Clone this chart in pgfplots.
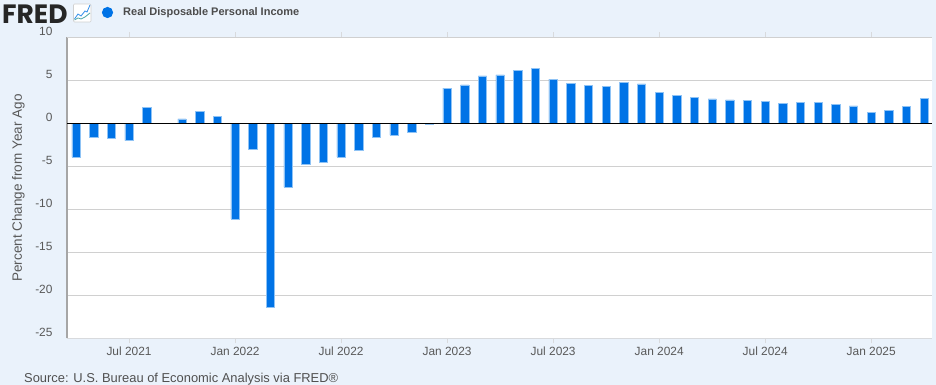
\documentclass[border=0pt]{standalone}
\usepackage{pgfplots}
\pgfplotsset{compat=1.18}
\usepackage{pgfplotstable}
\usepackage{fontspec}
\setmainfont{Liberation Sans}
\newfontfamily\logofont{Poppins}
\definecolor{bgblue}{HTML}{EAF2FB}
\definecolor{barblue}{HTML}{0073E6}
\definecolor{baredge}{HTML}{8FC3F5}
\definecolor{txt}{HTML}{595959}
\definecolor{gridc}{HTML}{D0D0D0}
\definecolor{axisc}{HTML}{A6A6A6}
\pgfplotstableread{
x y
0 -3.9
1 -1.6
2 -1.7
3 -2.0
4 1.9
5 0.05
6 0.55
7 1.45
8 0.85
9 -11.1
10 -3.0
11 -21.4
12 -7.4
13 -4.75
14 -4.5
15 -3.9
16 -3.1
17 -1.6
18 -1.35
19 -1.0
20 -0.1
21 4.1
22 4.5
23 5.55
24 5.65
25 6.15
26 6.45
27 5.15
28 4.7
29 4.4
30 4.35
31 4.8
32 4.6
33 3.6
34 3.3
35 3.05
36 2.85
37 2.75
38 2.65
39 2.55
40 2.35
41 2.45
42 2.45
43 2.25
44 2.05
45 1.25
46 1.55
47 1.95
48 2.95
}\incometable
\begin{document}
\begin{tikzpicture}[x=1pt,y=1pt]
\path[use as bounding box,fill=bgblue] (0,0) rectangle (936,385);
\begin{axis}[
  at={(67pt,46.5pt)},anchor=south west,
  scale only axis,width=865pt,height=301pt,
  xmin=-0.51,xmax=48.44,ymin=-25,ymax=10,
  ybar,bar width=8.3pt,
  axis background/.style={fill=white},
  ytick={-25,-20,-15,-10,-5,0,5,10},
  xtick={3,9,15,21,27,33,39,45},
  xticklabels={Jul 2021,Jan 2022,Jul 2022,Jan 2023,Jul 2023,Jan 2024,Jul 2024,Jan 2025},
  ymajorgrids,
  grid style={gridc,line width=1.3pt},
  axis line style={draw=none},
  tick align=outside,
  xtick style={draw=gridc!70!bgblue,line width=0.6pt},
  major tick length=5pt,
  ytick style={draw=none},
  tick label style={font=\fontsize{11.9}{14}\selectfont,text=txt},
  /pgf/number format/assume math mode=true,
  yticklabel style={yshift=6pt,xshift=-6pt},
  ylabel={Percent Change from Year Ago},
  every axis y label/.style={at={(axis description cs:0,0.5)},rotate=90,anchor=center,yshift=48.5pt,font=\fontsize{13.5}{15}\selectfont,text=txt},
  clip=false,
]
\addplot[ybar,bar shift=0pt,fill=barblue,draw=baredge,line width=0.5pt] table[x=x,y=y] {\incometable};
\draw[axisc,line width=1.5pt] (axis cs:-0.51,-25) -- (axis cs:-0.51,10);
\draw[gridc,line width=1.3pt] (axis cs:-0.51,10) -- (axis cs:48.44,10);
\draw[gridc!70!bgblue,line width=1pt] (axis cs:-0.51,-25) -- (axis cs:48.44,-25);
\draw[black,line width=1.3pt] (axis cs:-0.51,0) -- (axis cs:48.44,0);
\end{axis}
% header
\node[anchor=west,inner sep=0pt,font=\logofont\bfseries\fontsize{26.5}{26}\selectfont,text=black!85] at (2,371) {FRED};
\draw[gridc,fill=white,rounded corners=1pt,line width=0.6pt] (73.5,363) rectangle (91,381);
\draw[barblue!80,line width=0.8pt] (74.5,366) -- (78,371) -- (81,369) -- (85,374) -- (87,373) -- (90,380);
\draw[teal!70,line width=0.8pt] (74.5,365) -- (78,367) -- (81,366) -- (85,368) -- (90,372);
\fill[barblue] (107.5,372.5) circle (5.6);
\node[anchor=west,inner sep=0pt,font=\bfseries\fontsize{11}{13}\selectfont,text=txt!85!black] at (123,372.8) {Real Disposable Personal Income};
\node[anchor=west,inner sep=0pt,font=\fontsize{12.9}{15}\selectfont,text=txt!90!black] at (24,6) {Source: U.S. Bureau of Economic Analysis via FRED®};
\end{tikzpicture}
\end{document}
